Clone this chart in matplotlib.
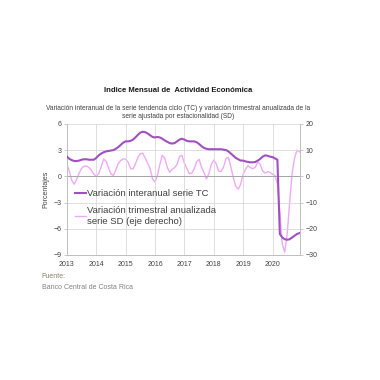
import matplotlib
matplotlib.use("Agg")
import matplotlib.pyplot as plt
import numpy as np

plt.rcParams['font.family'] = ['Liberation Sans', 'DejaVu Sans']

years = [2013, 2014, 2015, 2016, 2017, 2018, 2019, 2020]

# Variación interanual serie tendencia ciclo (left axis, %), monthly Jan-2013..Dec-2020
tc = [2.25, 2.0, 1.85, 1.75, 1.75, 1.8, 1.9, 1.95, 1.95, 1.9, 1.9, 1.9,
      2.1, 2.4, 2.6, 2.75, 2.85, 2.9, 2.95, 3.0, 3.15, 3.35, 3.6, 3.85,
      4.0, 4.0, 4.05, 4.2, 4.45, 4.75, 5.0, 5.1, 5.05, 4.9, 4.7, 4.5,
      4.45, 4.5, 4.45, 4.3, 4.1, 3.95, 3.8, 3.75, 3.8, 4.0, 4.2, 4.3,
      4.2, 4.05, 4.0, 4.0, 4.0, 3.9, 3.7, 3.45, 3.25, 3.15, 3.1, 3.1,
      3.1, 3.1, 3.1, 3.1, 3.05, 3.0, 2.85, 2.6, 2.35, 2.1, 1.95, 1.8,
      1.8, 1.7, 1.65, 1.6, 1.6, 1.65, 1.8, 2.0, 2.25, 2.4, 2.35, 2.25,
      2.2, 2.05, 1.9, -6.6, -7.0, -7.2, -7.25, -7.2, -7.0, -6.8, -6.6, -6.5]

# Variación trimestral anualizada serie SD (right axis, %)
sd = [4.6, 2.0, -1.6, -3.0, -1.1, 1.2, 3.0, 3.9, 3.9, 3.4, 2.3, 0.8,
      0.1, 1.0, 3.5, 6.6, 5.8, 3.2, 0.9, 0.3, 2.5, 4.8, 6.0, 6.7,
      6.5, 5.5, 3.0, 2.8, 4.7, 7.2, 8.6, 8.8, 7.0, 5.0, 3.0, -1.0,
      -2.2, 0.5, 4.5, 8.0, 6.8, 3.5, 1.5, 2.7, 3.3, 4.5, 7.5, 8.0,
      5.0, 3.0, 1.0, 1.2, 2.8, 5.5, 6.5, 3.5, 1.5, -1.0, 1.0, 4.5,
      6.2, 4.8, 2.0, 1.8, 3.5, 6.8, 7.2, 3.5, -0.5, -3.8, -4.9, -3.0,
      0.8, 2.7, 4.1, 3.3, 2.9, 3.5, 5.5, 4.5, 2.0, 1.2, 1.8, 1.5,
      0.8, 0.3, -3.0, -14.0, -26.0, -29.0, -22.0, -10.0, 1.0, 7.0, 10.0, 9.3]

x = 2013 + np.arange(len(tc)) / 12.0

left_ticks = [6, 3, 0, -3, -6, -9]
right_ticks = [20, 10, 0, -10, -20, -30]

fig = plt.figure(figsize=(3.8, 3.8), dpi=100)
ax = fig.add_axes([0.176, 0.329, 0.613, 0.345])
ax2 = ax.twinx()

grid_c = '#d9d9d9'
ax.set_xlim(2013, 2020.93)
ax.set_ylim(-9, 6)
ax2.set_ylim(-30, 20)
ax.set_yticks(left_ticks)
ax2.set_yticks(right_ticks)
ax.set_xticks(years)
ax.set_xticklabels([str(y) for y in years])
ax.grid(True, color=grid_c, lw=0.6)
ax.set_axisbelow(True)
ax.axhline(0, color='#a6a6a6', lw=0.7, zorder=1)

l2, = ax2.plot(x, sd, color='#eeaaf5', lw=1.0, label='Variación trimestral anualizada\nserie SD (eje derecho)')
l1, = ax.plot(x, tc, color='#a050c0', lw=1.5, label='Variación interanual serie TC', zorder=5)
ax.set_zorder(ax2.get_zorder() + 1)
ax.patch.set_visible(False)

for a in (ax, ax2):
    for s in a.spines.values():
        s.set_color('#bfbfbf')
        s.set_linewidth(0.7)
    a.spines['top'].set_visible(False)
    a.tick_params(labelsize=5, colors='#404040', length=2, width=0.6, pad=2)
    a.tick_params(axis='y', color='#bfbfbf')
ax.tick_params(axis='x', length=0, pad=4)

ax.set_ylabel('Porcentajes', fontsize=5, color='#404040', labelpad=3)

leg = ax.legend(handles=[l1, l2], loc='upper left', bbox_to_anchor=(0.0, 0.565),
                frameon=False, fontsize=6.8, handlelength=1.1, handletextpad=0.15,
                labelspacing=0.85, labelcolor='#404040')

fig.text(0.468, 0.763, 'Indice Mensual de  Actividad Económica', ha='center', va='center',
         fontsize=5.6, fontweight='bold', color='#1a1a1a')
fig.text(0.468, 0.704, 'Variación interanual de la serie tendencia ciclo (TC) y variación trimestral anualizada de la\nserie ajustada por estacionalidad (SD)',
         ha='center', va='center', fontsize=4.8, color='#404040', linespacing=1.15)

fig.text(0.11, 0.273, 'Fuente:', fontsize=5, color='#8c7f6b', va='center')
fig.text(0.11, 0.244, 'Banco Central de Costa Rica', fontsize=5, color='#808080', va='center')

fig.savefig('out.png', dpi=100, facecolor='white')
